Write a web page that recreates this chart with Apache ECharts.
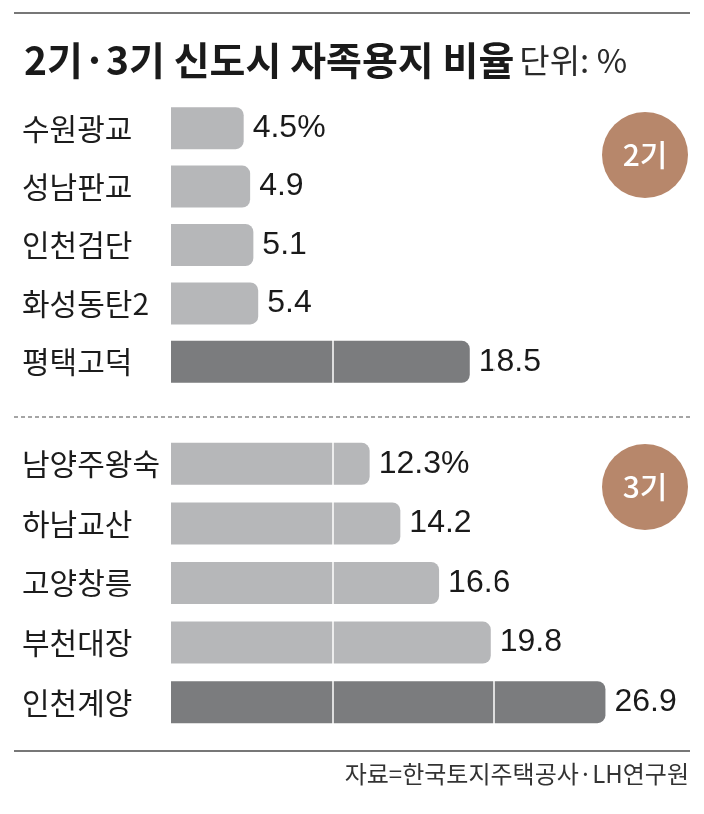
<!DOCTYPE html>
<html>
<head>
<meta charset="utf-8">
<script src="https://cdn.jsdelivr.net/npm/echarts@6/dist/echarts.min.js"></script>
<style>
  html, body { margin: 0; padding: 0; background: #fff; }
  #main { width: 704px; height: 814px; }
</style>
</head>
<body>
<div id="main"></div>
<script>
// 2기 신도시
var cats2 = ['수원광교', '성남판교', '인천검단', '화성동탄2', '평택고덕'];
var vals2 = [4.5, 4.9, 5.1, 5.4, 18.5];
var labels2 = ['4.5%', '4.9', '5.1', '5.4', '18.5'];
// 3기 신도시
var cats3 = ['남양주왕숙', '하남교산', '고양창릉', '부천대장', '인천계양'];
var vals3 = [12.3, 14.2, 16.6, 19.8, 26.9];
var labels3 = ['12.3%', '14.2', '16.6', '19.8', '26.9'];
var groups = ['2기', '3기'];

var KR = '"Noto Sans CJK KR", "Noto Sans", sans-serif';
var NUM = '"Liberation Sans", Arial, sans-serif';
var LIGHT = '#b6b7b9';
var DARK = '#7b7c7e';
var BADGE = '#b7876b';

var myChart = echarts.init(document.getElementById('main'));

function barData(vals, labels) {
	return vals.map(function (v, i) {
		return {
			value: v,
			label: { formatter: labels[i] },
			itemStyle: { color: i === vals.length - 1 ? DARK : LIGHT }
		};
	});
}

function xAxisOf(idx) {
	return {
		type: 'value',
		gridIndex: idx,
		min: 0,
		max: 30,
		interval: 10,
		z: 5, // 흰 구분선을 막대 위에 그림
		axisLine: { show: false },
		axisTick: { show: false },
		axisLabel: { show: false },
		splitLine: {
			show: true,
			showMinLine: false,
			showMaxLine: false,
			lineStyle: { color: '#ffffff', width: 1.5 }
		}
	};
}

function yAxisOf(idx, cats) {
	return {
		type: 'category',
		gridIndex: idx,
		data: cats,
		inverse: true,
		axisLine: { show: false },
		axisTick: { show: false },
		axisLabel: {
			align: 'left',
			margin: 149,
			fontFamily: KR,
			fontSize: 30,
			color: '#1c1c1c'
		}
	};
}

var valueLabel = {
	show: true,
	position: 'right',
	distance: 9,
	fontFamily: NUM,
	fontSize: 32,
	color: '#1a1a1a'
};

function badge(cy, text) {
	return {
		type: 'group',
		z: 20,
		children: [
			{ type: 'circle', z: 20, shape: { cx: 645, cy: cy, r: 43 }, style: { fill: BADGE } },
			{
				type: 'text',
				z: 21,
				style: {
					x: 645, y: cy, text: text, fill: '#fff',
					font: '500 30px ' + KR,
					textAlign: 'center', textVerticalAlign: 'middle'
				}
			}
		]
	};
}

var option = {
	animation: false,
	backgroundColor: '#ffffff',
	title: {
		left: 19,
		top: 32,
		text: '{a|2기·3기 신도시 자족용지 비율} {b|단위: %}',
		textStyle: {
			rich: {
				a: { fontFamily: KR, fontSize: 39, fontWeight: 'bold', color: '#1a1a1a', lineHeight: 46 },
				b: { fontFamily: KR, fontSize: 33, fontWeight: 'normal', color: '#2a2a2a', lineHeight: 46 }
			}
		}
	},
	grid: [
		{ left: 171, width: 484.5, top: 99, height: 292 },
		{ left: 171, width: 484.5, top: 434, height: 298 }
	],
	xAxis: [xAxisOf(0), xAxisOf(1)],
	yAxis: [yAxisOf(0, cats2), yAxisOf(1, cats3)],
	series: [
		{
			type: 'bar',
			xAxisIndex: 0,
			yAxisIndex: 0,
			barWidth: 42,
			itemStyle: { borderRadius: [0, 8, 8, 0] },
			label: valueLabel,
			data: barData(vals2, labels2)
		},
		{
			type: 'bar',
			xAxisIndex: 1,
			yAxisIndex: 1,
			barWidth: 42,
			itemStyle: { borderRadius: [0, 8, 8, 0] },
			label: valueLabel,
			data: barData(vals3, labels3)
		}
	],
	graphic: [
		// 위 구분선
		{ type: 'line', shape: { x1: 14, y1: 13, x2: 690, y2: 13 }, style: { stroke: '#777', lineWidth: 2 } },
		// 가운데 점선
		{ type: 'line', shape: { x1: 14, y1: 417, x2: 690, y2: 417 }, style: { stroke: '#888', lineWidth: 1.5, lineDash: [4, 3] } },
		// 아래 구분선
		{ type: 'line', shape: { x1: 14, y1: 751, x2: 690, y2: 751 }, style: { stroke: '#777', lineWidth: 2 } },
		badge(155, groups[0]),
		badge(487, groups[1]),
		{
			type: 'text',
			style: {
				x: 689, y: 774,
				text: '자료=한국토지주택공사·LH연구원',
				fill: '#333',
				font: '24px ' + KR,
				textAlign: 'right', textVerticalAlign: 'middle'
			}
		}
	]
};

myChart.setOption(option);
</script>
</body>
</html>
